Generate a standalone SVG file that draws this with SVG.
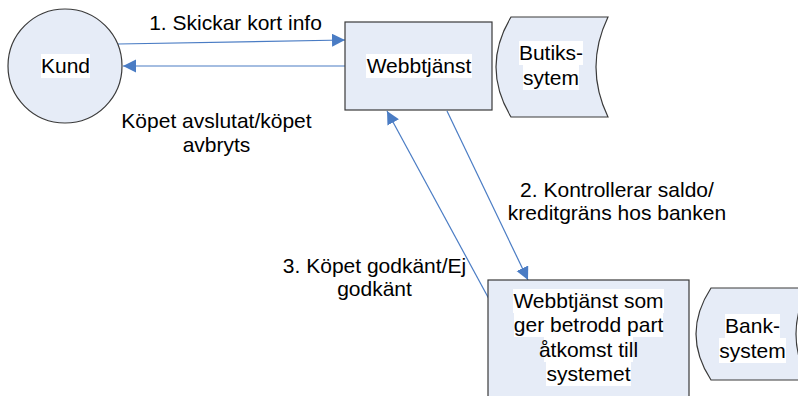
<svg xmlns="http://www.w3.org/2000/svg" width="798" height="396" viewBox="0 0 798 396">
  <style>
    .shape { fill: #E6ECF7; stroke: #3A3A3A; stroke-width: 1.2; }
    .lbl { font-family: "Liberation Sans", Arial, sans-serif; font-size: 21px; fill: #000; text-anchor: middle; }
    .bg { fill: #FFFFFF; }
    .conn { stroke: #4A7CC4; stroke-width: 1.2; fill: none; marker-end: url(#arrow); }
  </style>
  <defs>
    <marker id="arrow" markerUnits="userSpaceOnUse" markerWidth="14" markerHeight="14" refX="13" refY="6.5" orient="auto">
      <path d="M0,0 L13,6.5 L0,13 Z" fill="#4A7CC4"/>
    </marker>
  </defs>
  <rect width="798" height="396" fill="#FFFFFF"/>

  <!-- connectors -->
  <g id="connectors">
    <line class="conn" x1="118" y1="44" x2="345" y2="40"/>
    <line class="conn" x1="345" y1="66" x2="123" y2="66"/>
    <line class="conn" x1="447" y1="111" x2="528" y2="280"/>
    <line class="conn" x1="489" y1="299" x2="387" y2="111"/>
  </g>

  <!-- customer -->
  <g id="kund">
    <circle class="shape" cx="65" cy="66" r="57"/>
    <rect class="bg" x="41" y="54" width="49" height="24"/>
    <text class="lbl" x="65.5" y="73">Kund</text>
  </g>

  <!-- web service -->
  <g id="webbtjanst">
    <rect class="shape" x="345" y="22" width="147" height="88"/>
    <rect class="bg" x="366" y="54" width="106" height="24"/>
    <text class="lbl" x="419" y="73">Webbtjänst</text>
  </g>

  <!-- shop system store -->
  <g id="butikssystem">
    <path class="shape" d="M511,17 L608,17 Q584,67 608,117 L511,117 Q481,67 511,17 Z"/>
    <rect class="bg" x="519" y="41" width="64" height="24"/>
    <rect class="bg" x="523" y="65" width="56" height="25"/>
    <text class="lbl" x="551" y="60">Butiks-</text>
    <text class="lbl" x="551" y="85">sytem</text>
  </g>

  <!-- trusted party web service -->
  <g id="betrodd-part">
    <rect class="shape" x="488" y="280" width="201" height="130"/>
    <rect class="bg" x="513" y="289" width="151" height="24"/>
    <rect class="bg" x="514" y="313" width="149" height="24"/>
    <rect class="bg" x="544" y="337" width="89" height="25"/>
    <rect class="bg" x="546" y="362" width="85" height="24"/>
    <text class="lbl" x="588.5" y="308">Webbtjänst som</text>
    <text class="lbl" x="588.5" y="332">ger betrodd part</text>
    <text class="lbl" x="588.5" y="357">åtkomst till</text>
    <text class="lbl" x="588.5" y="381">systemet</text>
  </g>

  <!-- bank system store -->
  <g id="banksystem">
    <path class="shape" d="M711,288 L808,288 Q784,334 808,380 L711,380 Q681,334 711,288 Z"/>
    <rect class="bg" x="725" y="314" width="55" height="24"/>
    <rect class="bg" x="719" y="338" width="67" height="25"/>
    <text class="lbl" x="752.5" y="333">Bank-</text>
    <text class="lbl" x="752.5" y="358">system</text>
  </g>

  <!-- connector labels -->
  <g id="labels">
    <text class="lbl" x="235.5" y="30">1. Skickar kort info</text>
    <text class="lbl" x="216.5" y="128">Köpet avslutat/köpet</text>
    <text class="lbl" x="216.5" y="152">avbryts</text>
    <text class="lbl" x="617" y="197">2. Kontrollerar saldo/</text>
    <text class="lbl" x="617" y="220">kreditgräns hos banken</text>
    <text class="lbl" x="374.5" y="273">3. Köpet godkänt/Ej</text>
    <text class="lbl" x="374.5" y="296">godkänt</text>
  </g>
</svg>
